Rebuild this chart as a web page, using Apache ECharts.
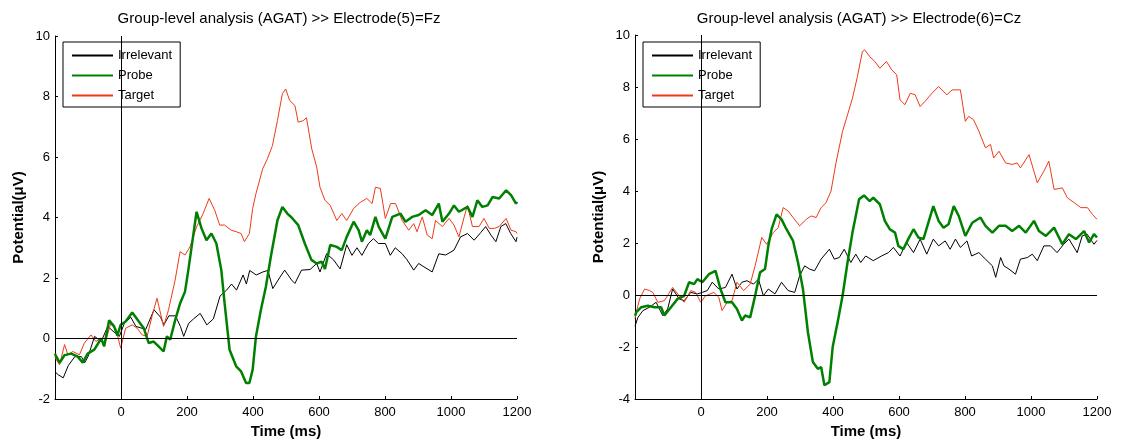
<!DOCTYPE html>
<html>
<head>
<meta charset="utf-8">
<script src="https://cdn.jsdelivr.net/npm/echarts@6/dist/echarts.min.js"></script>
<style>html,body{margin:0;padding:0;background:#fff;}#c{width:1123px;height:441px;}</style>
</head>
<body>
<div id="c"></div>
<script>
// ---- data (time in ms, potential in µV) ----
const titles = ['Group-level analysis (AGAT) >> Electrode(5)=Fz', 'Group-level analysis (AGAT) >> Electrode(6)=Cz'];
const seriesNames = ['Irrelevant', 'Probe', 'Target'];
const xTicks = [0, 200, 400, 600, 800, 1000, 1200];
const yTicksFz = [-2, 0, 2, 4, 6, 8, 10];
const yTicksCz = [-4, -2, 0, 2, 4, 6, 8, 10];

const fzIrrelevant = [[-200,-1.1],[-190,-1.2],[-175,-1.3],[-160,-0.9],[-140,-0.6],[-120,-0.6],[-110,-0.8],[-100,-0.6],[-80,0.07],[-60,-0.1],[-40,0.4],[-20,0.2],[-5,0.07],[10,0.5],[30,0.7],[45,0.4],[75,0.3],[100,0.95],[120,0.7],[130,0.45],[145,0.75],[165,0.75],[180,0.4],[190,0.07],[205,0.5],[220,0.65],[240,0.83],[260,0.45],[280,0.65],[300,1.4],[320,1.6],[335,1.8],[350,1.6],[370,2.1],[380,1.8],[390,2.25],[410,2.1],[430,2.2],[445,2.25],[460,1.65],[480,2.0],[496,2.26],[517,1.93],[527,1.82],[547,2.26],[573,2.28],[593,2.48],[603,2.2],[623,2.8],[644,2.6],[664,2.3],[684,3.1],[700,2.75],[715,3.0],[730,2.75],[750,3.14],[765,3.3],[780,3.14],[801,3.14],[816,2.75],[831,3.0],[852,2.8],[867,2.6],[887,2.26],[902,2.48],[918,2.37],[943,2.2],[963,2.8],[984,2.76],[1009,2.92],[1029,3.36],[1050,3.47],[1070,3.25],[1090,3.5],[1105,3.7],[1121,3.42],[1136,3.2],[1151,3.7],[1166,3.8],[1181,3.47],[1197,3.2],[1200,3.35]];
const fzProbe = [[-200,-0.5],[-196,-0.6],[-186,-0.8],[-171,-0.55],[-151,-0.5],[-131,-0.6],[-116,-0.8],[-101,-0.5],[-81,-0.37],[-60,0.0],[-51,-0.26],[-36,0.6],[-21,0.4],[-11,0.1],[-1,0.45],[14,0.56],[34,0.86],[54,0.56],[69,0.34],[84,-0.15],[99,-0.1],[114,-0.26],[129,-0.43],[139,0.07],[149,-0.04],[164,0.6],[179,1.16],[194,1.55],[204,2.26],[214,3.03],[229,4.19],[244,3.64],[259,3.25],[274,3.47],[289,3.14],[304,2.26],[314,1.16],[329,-0.37],[349,-0.92],[364,-1.09],[379,-1.47],[389,-1.47],[399,-1.03],[409,0.07],[424,0.95],[439,1.71],[454,2.7],[474,3.9],[489,4.35],[504,4.13],[517,4.0],[537,3.75],[557,3.14],[577,2.6],[593,2.48],[608,2.54],[618,2.3],[634,3.09],[654,3.03],[669,2.92],[684,3.36],[705,3.86],[720,3.58],[730,3.2],[745,3.58],[755,3.42],[771,4.02],[781,3.69],[801,3.3],[822,4.02],[847,4.13],[862,3.86],[882,4.02],[902,4.08],[923,4.24],[943,4.08],[963,4.46],[974,3.86],[994,4.13],[1009,4.4],[1024,4.19],[1050,4.35],[1065,4.02],[1080,4.57],[1095,4.35],[1111,4.4],[1126,4.68],[1146,4.63],[1167,4.9],[1182,4.74],[1197,4.46],[1200,4.52]];
const fzTarget = [[-200,-0.6],[-196,-0.7],[-186,-0.87],[-171,-0.2],[-161,-0.54],[-146,-0.43],[-126,-0.54],[-111,-0.15],[-91,0.12],[-76,-0.1],[-61,0.01],[-51,-0.26],[-31,0.5],[-16,0.34],[-1,-0.32],[14,0.34],[34,0.45],[49,0.34],[64,0.12],[79,0.07],[94,0.73],[109,1.33],[129,0.4],[144,0.95],[164,1.93],[179,2.87],[194,2.76],[209,3.03],[229,3.69],[249,4.13],[267,4.63],[284,4.24],[299,3.75],[314,3.75],[334,3.58],[349,3.53],[364,3.47],[374,3.2],[389,3.47],[399,4.3],[409,4.79],[429,5.6],[444,5.95],[459,6.38],[474,7.2],[489,8.09],[499,8.25],[511,7.87],[527,7.7],[537,7.15],[552,7.2],[562,7.3],[578,6.27],[593,5.67],[603,5.0],[618,4.57],[634,4.4],[654,3.9],[669,4.13],[684,3.9],[705,4.3],[725,4.5],[745,4.63],[761,4.46],[771,5.0],[786,4.96],[801,3.97],[817,4.46],[832,4.46],[852,3.9],[872,3.58],[887,3.8],[897,3.53],[913,4.02],[928,3.42],[943,3.3],[953,3.9],[974,3.7],[994,3.97],[1009,3.75],[1024,3.36],[1040,4.02],[1050,4.4],[1065,3.7],[1085,3.7],[1100,3.97],[1116,3.64],[1131,3.64],[1146,3.7],[1167,3.97],[1182,3.58],[1197,3.53],[1200,3.47]];

const czIrrelevant = [[-200,-1.2],[-196,-1.17],[-191,-0.86],[-176,-0.6],[-156,-0.47],[-136,-0.28],[-116,-0.79],[-101,-0.54],[-86,0.23],[-66,-0.15],[-51,-0.22],[-31,0.1],[-11,0.04],[4,0.1],[19,0.17],[34,0.49],[54,0.23],[74,0.29],[94,0.8],[109,0.23],[124,0.49],[139,0.55],[159,0.42],[174,0.61],[189,-0.03],[204,0.23],[224,0.04],[244,0.49],[264,0.17],[284,0.1],[299,0.74],[314,1.12],[329,1.0],[344,0.93],[364,1.38],[389,1.76],[404,1.38],[419,1.44],[434,1.76],[454,1.25],[469,1.57],[484,1.25],[499,1.5],[522,1.32],[547,1.5],[568,1.63],[583,1.83],[603,1.5],[623,2.02],[644,1.63],[664,2.15],[684,1.57],[704,2.15],[720,1.89],[740,2.08],[755,1.76],[771,2.15],[786,1.83],[806,2.08],[820,1.5],[842,1.63],[862,1.38],[883,1.12],[893,0.68],[908,1.44],[918,1.12],[933,1.0],[953,0.8],[968,1.38],[989,1.44],[1004,1.57],[1019,1.32],[1039,1.89],[1059,1.89],[1079,1.63],[1099,1.95],[1115,2.15],[1140,1.63],[1155,2.27],[1170,2.34],[1191,1.95],[1200,2.1]];
const czProbe = [[-200,-0.8],[-196,-0.66],[-181,-0.47],[-161,-0.41],[-141,-0.47],[-121,-0.47],[-111,-0.79],[-91,-0.47],[-71,-0.15],[-51,-0.03],[-36,0.49],[-21,0.42],[-11,0.61],[4,0.49],[24,0.8],[44,0.93],[59,0.23],[74,-0.28],[94,-0.28],[109,-0.54],[124,-0.98],[134,-0.79],[149,-0.86],[164,-0.03],[179,0.87],[194,1.0],[204,1.89],[214,2.53],[229,3.1],[244,2.91],[259,2.53],[279,2.08],[294,1.25],[309,0.23],[324,-1.43],[339,-2.58],[354,-2.84],[364,-2.77],[374,-3.47],[389,-3.35],[399,-2.0],[414,-1.05],[429,-0.03],[444,1.25],[459,2.4],[479,3.68],[494,3.83],[511,3.61],[522,3.74],[542,3.49],[557,2.85],[572,2.53],[588,2.4],[598,1.89],[613,1.76],[628,2.15],[644,2.53],[659,2.21],[674,2.15],[689,2.78],[704,3.42],[720,2.85],[735,2.59],[750,2.72],[766,3.42],[781,3.04],[801,2.27],[822,2.78],[847,2.98],[862,2.66],[883,2.4],[903,2.66],[923,2.66],[943,2.46],[964,2.66],[984,2.4],[1009,2.85],[1024,2.46],[1045,2.27],[1070,2.59],[1095,1.95],[1115,2.34],[1136,2.15],[1161,2.46],[1176,2.02],[1191,2.34],[1200,2.21]];
const czTarget = [[-200,-0.9],[-196,-0.66],[-186,-0.15],[-171,0.23],[-156,0.17],[-146,0.1],[-131,-0.28],[-111,-0.22],[-86,0.29],[-66,-0.03],[-51,-0.28],[-31,0.17],[-16,0.1],[-1,-0.28],[14,-0.03],[39,0.1],[54,-0.09],[64,-0.6],[79,-0.28],[94,-0.22],[109,0.49],[129,0.17],[149,0.42],[164,1.12],[184,2.21],[199,1.95],[219,2.4],[234,2.59],[249,3.36],[264,3.23],[279,2.98],[299,2.66],[319,2.91],[334,3.04],[349,2.98],[364,3.36],[379,3.55],[394,4.0],[409,5.08],[429,6.3],[444,6.93],[459,7.57],[474,8.4],[489,9.36],[496,9.43],[511,9.17],[527,8.98],[542,8.72],[562,8.98],[578,8.66],[593,8.47],[603,7.51],[618,7.32],[634,7.76],[649,7.7],[664,7.25],[679,7.45],[700,7.76],[720,8.02],[745,7.7],[761,7.89],[786,7.89],[801,6.68],[811,6.87],[826,6.74],[842,6.3],[862,5.66],[877,5.79],[887,5.27],[903,5.53],[923,5.08],[943,5.02],[958,5.08],[968,4.89],[994,5.4],[1019,4.32],[1039,4.76],[1054,5.15],[1070,4.06],[1095,4.12],[1110,3.74],[1131,3.55],[1151,3.36],[1171,3.36],[1186,3.1],[1200,2.91]];

// ---- chart ----
const FONT = 'Liberation Sans, Arial, sans-serif';
const colors = { Irrelevant: '#000000', Probe: '#008000', Target: '#ee3a18' };
const widths = { Irrelevant: 1, Probe: 2.5, Target: 1 };

const panels = [
  { left: 55, top: 36, height: 363, yTicks: yTicksFz, data: [fzIrrelevant, fzProbe, fzTarget], title: titles[0] },
  { left: 635, top: 35, height: 364, yTicks: yTicksCz, data: [czIrrelevant, czProbe, czTarget], title: titles[1] }
];
const W = 462;

const option = {
  animation: false,
  backgroundColor: '#fff',
  title: panels.map(p => ({
    text: p.title, left: p.left + W / 2 - 12, top: 6, textAlign: 'center',
    textStyle: { fontFamily: FONT, fontSize: 15, fontWeight: 'normal', color: '#000' }
  })),
  legend: panels.map(p => ({
    data: seriesNames, orient: 'vertical', left: p.left + 8, top: 42,
    padding: [7, 8, 5, 8], itemGap: 7, itemWidth: 41, itemHeight: 14,
    backgroundColor: '#fff', borderColor: '#000', borderWidth: 1, borderRadius: 0,
    selectedMode: false,
    itemStyle: { opacity: 0 },
    textStyle: { fontFamily: FONT, fontSize: 13, color: '#000' }
  })),
  grid: panels.map(p => ({ left: p.left, top: p.top, width: W, height: p.height, containLabel: false, outerBoundsMode: 'none' })),
  xAxis: panels.map((p, i) => ({
    type: 'value', gridIndex: i, min: -200, max: 1200, interval: 200,
    name: 'Time (ms)', nameLocation: 'middle', nameGap: 24,
    nameTextStyle: { fontFamily: FONT, fontSize: 15, fontWeight: 'bold', color: '#000' },
    axisLine: { show: true, onZero: false, lineStyle: { color: '#000', width: 1 } },
    axisTick: { show: true, inside: true, length: 3, lineStyle: { color: '#000' } },
    axisLabel: {
      margin: 7, fontFamily: FONT, fontSize: 13, color: '#000',
      formatter: v => (xTicks.indexOf(v) >= 0 ? String(v) : '')
    },
    splitLine: { show: false }
  })),
  yAxis: panels.map((p, i) => ({
    type: 'value', gridIndex: i, min: p.yTicks[0], max: p.yTicks[p.yTicks.length - 1], interval: 2,
    name: 'Potential(μV)', nameLocation: 'middle', nameGap: 29,
    nameTextStyle: { fontFamily: FONT, fontSize: 15, fontWeight: 'bold', color: '#000' },
    axisLine: { show: true, onZero: false, lineStyle: { color: '#000', width: 1 } },
    axisTick: { show: true, inside: true, length: 3, lineStyle: { color: '#000' } },
    axisLabel: { margin: 5, fontFamily: FONT, fontSize: 13, color: '#000' },
    splitLine: { show: false }
  })),
  series: []
};

panels.forEach((p, i) => {
  seriesNames.forEach((name, k) => {
    const s = {
      type: 'line', name: name, xAxisIndex: i, yAxisIndex: i,
      data: p.data[k], symbol: 'none', showSymbol: false, smooth: false,
      lineStyle: { color: colors[name], width: widths[name] },
      itemStyle: { color: colors[name] },
      emphasis: { disabled: true }, z: k === 1 ? 3 : 2
    };
    if (k === 0) {
      s.markLine = {
        silent: true, symbol: 'none', label: { show: false },
        lineStyle: { color: '#000', width: 1, type: 'solid' },
        emphasis: { disabled: true },
        data: [{ yAxis: 0 }, { xAxis: 0 }]
      };
    }
    option.series.push(s);
  });
});

const chart = echarts.init(document.getElementById('c'), null, { renderer: 'canvas' });
chart.setOption(option);
</script>
</body>
</html>
